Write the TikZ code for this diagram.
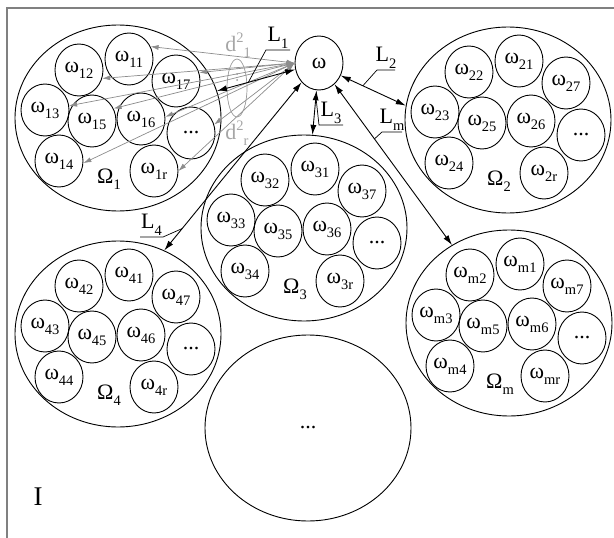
\documentclass[tikz,border=0pt]{standalone}
\usepackage{fontspec}
\setmainfont{Liberation Serif}
\usetikzlibrary{shapes.geometric,arrows.meta}
\newcommand{\lsub}[1]{\raisebox{-0.28em}{\fontsize{14.5}{14.5}\selectfont #1}}
\newcommand{\lsup}[1]{\raisebox{0.42em}{\fontsize{14.5}{14.5}\selectfont #1}}
\newcommand{\om}[1]{ω\lsub{#1}}
\tikzset{
  every node/.style={font=\fontsize{22}{26}\selectfont},
  member/.style={draw, ellipse, minimum width=48, minimum height=52, inner sep=0pt},
  cluster/.style={draw, ellipse, minimum width=206, minimum height=186, inner sep=0pt},
  link/.style={{Latex[length=10pt,width=6pt]}-{Latex[length=10pt,width=6pt]}},
  dist/.style={draw=gray!90, line width=0.7pt, {Latex[length=8pt,width=5pt]}-{Latex[length=8pt,width=5pt]}},
  tag/.style={midway, above, inner sep=1.5pt},
}
\begin{document}
\begin{tikzpicture}[x=1pt, y=-1pt, line width=0.9pt]
 \useasboundingbox (0,0) rectangle (614,538);
 \draw[gray, line width=2.5pt] (7,538) -- (7,8) -- (614,8);
 % clusters Omega_1 ... Omega_m
 \foreach \c/\cx/\cy in {1/118/118, 2/508/120, 3/304/228, 4/118/334, m/509/323}{
   \node[cluster] (O\c) at (\cx,\cy) {};
   \foreach \k/\dx/\dy in {1/11/-59, 2/-39/-48, 7/58/-37, 3/-73/-8, 5/-26/3, 6/23/1, 4/-59/43, r/36/53}
     \node[member] (w\c\k) at (\cx+\dx,\cy+\dy) {\om{\c\k}};
   \node[member] (d\c) at (\cx+73,\cy+15) {...};
   \node (t\c) at (\cx-9,\cy+61) {Ω\lsub{\c}};
 }
 \node[cluster] (E) at (308,428) {...};
 \node[font=\fontsize{27}{30}\selectfont] (I) at (38,497) {I};
 % the point omega
 \node[member, minimum height=54] (w) at (319,63) {ω};
 % distances to the points of Omega_1
 \foreach \t in {w11.30, w17.20, w12.-20, w13.10, w15.30, w16.5, d1.20, w14.-5, w1r.0}
   \draw[dist] (w.west) -- (\t);
 \node[draw=gray!80, line width=0.7pt, ellipse, minimum width=20, minimum height=58, inner sep=0pt] (g) at (237,88) {};
 \foreach \y in {68,74,80} \fill[gray!80] (237,\y) circle (1pt);
 \node[gray!70] (d1) at (238,45) {d\lsup{2}\lsub{1}};
 \node[gray!70] (dr) at (237,133) {d\lsup{2}\lsub{r}};
 % links
 \draw[link] (w) -- (O1) coordinate[pos=0.6] (l1);
 \draw[link] (w.-30) -- (O2.172) coordinate[pos=0.34] (l2);
 \draw[link] (w) -- (O3) coordinate[pos=0.15] (l3);
 \draw[link] (w) -- (Om) coordinate[pos=0.34] (lm);
 \draw[link] (w.-132) -- (O4.61) coordinate[pos=0.87] (l4);
 \coordinate (k1) at (266,50);
 \coordinate (k2) at (377,70);
 \coordinate (k3) at (319,125);
 \coordinate (km) at (382,132);
 \coordinate (k4) at (163,237);
 \draw[line width=0.7pt] (l1) -- (k1) -- ++(24,0) node[tag] {L\lsub{1}};
 \draw[line width=0.7pt] (l2) -- (k2) -- ++(18,0) node[tag] {L\lsub{2}};
 \draw[line width=0.7pt] (l3) -- (k3) -- ++(24,0) node[tag] {L\lsub{3}};
 \draw[line width=0.7pt] (lm) -- (km) -- ++(20,0) node[tag] {L\lsub{m}};
 \draw[line width=0.7pt] (l4) -- (k4) -- ++(-23,0) node[tag] {L\lsub{4}};
\end{tikzpicture}
\end{document}
